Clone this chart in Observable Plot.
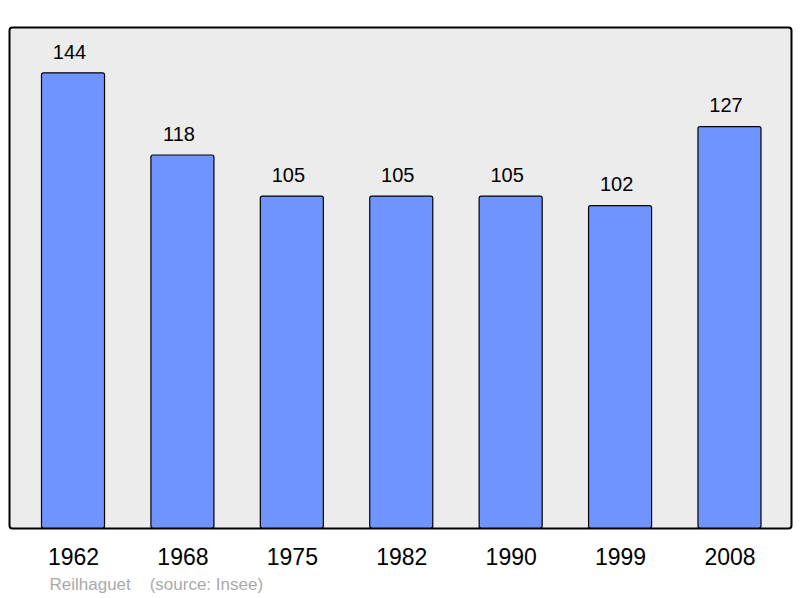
<!DOCTYPE html>
<html>
<head>
<meta charset="utf-8">
<script src="https://cdn.jsdelivr.net/npm/d3@7"></script>
<script src="https://cdn.jsdelivr.net/npm/@observablehq/plot@0.6"></script>
<style>
html,body{margin:0;padding:0;background:#fff;}
svg{display:block;}
</style>
</head>
<body>
<div id="chart"></div>
<script>
const years = ["1962","1968","1975","1982","1990","1999","2008"];
const population = [144,118,105,105,105,102,127];
const sourceText = "Reilhaguet    (source: Insee)";

const data = years.map((y,i)=>({year:y, value:population[i]}));

const chart = Plot.plot({
  width: 800,
  height: 598,
  marginLeft: 9,
  marginRight: 9,
  marginTop: 27,
  marginBottom: 70,
  style: {fontFamily: "'Liberation Sans', Arial, sans-serif", background: "#fff", overflow: "visible"},
  x: {type: "band", domain: years, range: [41.5, 761], paddingInner: 0.424, paddingOuter: 0, round: false, label: null},
  y: {domain: [0, 158.5], axis: null},
  marks: [
    Plot.frame({fill: "#ececec", stroke: "#000", strokeWidth: 2, rx: 3}),
    Plot.barY(data, {x: "year", y: "value", fill: "#7094ff", stroke: "#000", strokeWidth: 1.2, rx: 2}),
    Plot.text(data, {x: "year", y: "value", text: d => String(d.value), dx: -4, dy: -21, fontSize: 20, fill: "#000"}),
    Plot.axisX({tickSize: 0, tickPadding: 20, fontSize: 23, fill: "#000", label: null}),
    Plot.text([sourceText], {frameAnchor: "bottom-left", text: d => d, dx: 40, dy: 56, lineAnchor: "middle", textAnchor: "start", fontSize: 17, fill: "#aaaaaa"})
  ]
});
document.getElementById("chart").appendChild(chart);
</script>
</body>
</html>
